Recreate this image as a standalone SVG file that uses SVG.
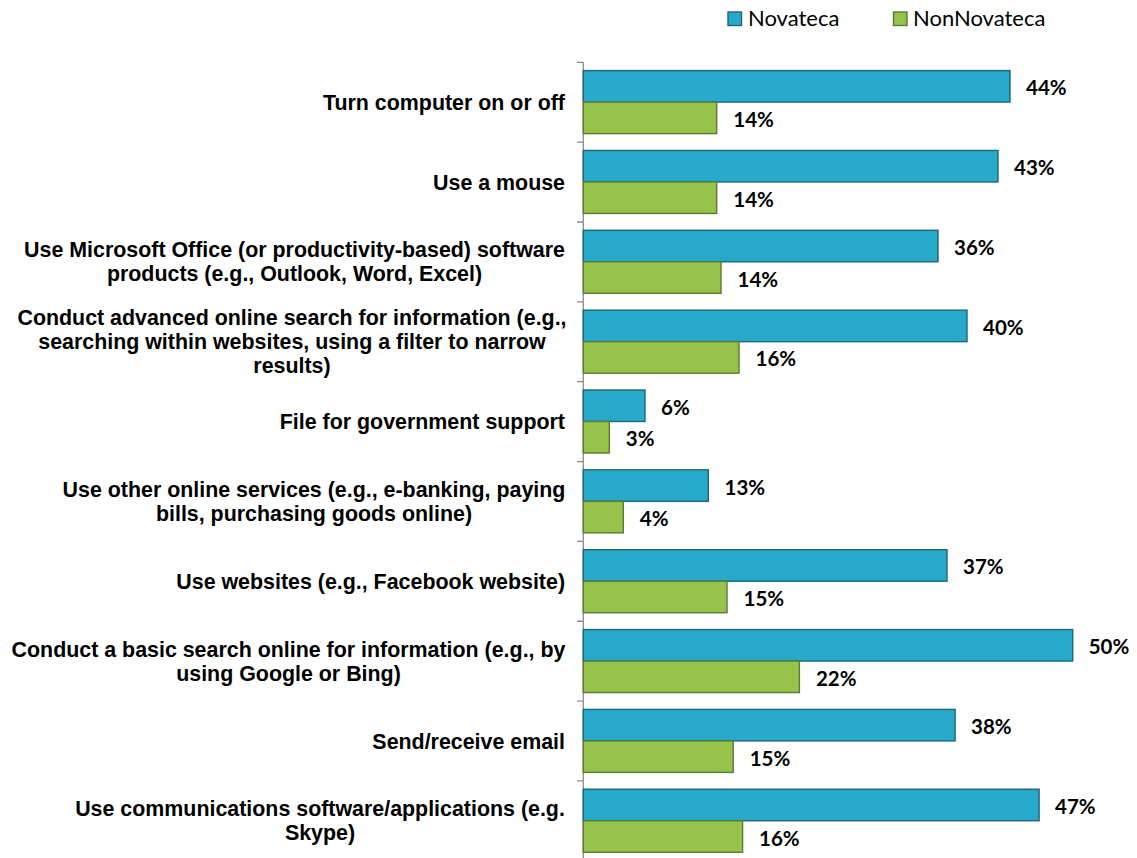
<svg xmlns="http://www.w3.org/2000/svg" width="1137" height="858" viewBox="0 0 1137 858">
<style>
.bg{fill:#ffffff}
.nov{fill:#27aac9;stroke:#1e6678;stroke-width:1.4}
.non{fill:#96c34a;stroke:#5d7a32;stroke-width:1.4}
.val{font-family:Lato,"Open Sans",sans-serif;font-weight:700;font-size:20.5px;fill:#000}
.cat{font-family:"Liberation Sans",Arial,sans-serif;font-weight:700;font-size:21.4px;fill:#000}
.catr{text-anchor:end}
.catm{text-anchor:middle}
.leg{font-family:Lato,"Open Sans",sans-serif;font-size:22px;fill:#000}
.axis{stroke:#8c8c8c;stroke-width:1.3;fill:none}
</style>
<rect class="bg" x="0" y="0" width="1137" height="858"/>
<g id="legend">
<rect class="nov" x="728" y="12" width="13.5" height="13.5"/>
<text class="leg" x="748" y="25.5">Novateca</text>
<rect class="non" x="893.5" y="12" width="13.5" height="13.5"/>
<text class="leg" x="913" y="25.5">NonNovateca</text>
</g>
<g id="axis">
<path class="axis" d="M583.3 62.3V858M577 62.3H583.3M577 142.15H583.3M577 222H583.3M577 301.85H583.3M577 381.7H583.3M577 461.55H583.3M577 541.4H583.3M577 621.25H583.3M577 701.1H583.3M577 780.95H583.3"/>
</g>
<g id="cat1">
<text class="cat catr" x="565" y="109.7">Turn computer on or off</text>
<rect class="nov" x="583.3" y="70.6" width="426.7" height="31.5"/>
<rect class="non" x="583.3" y="102.1" width="133.4" height="31.5"/>
<text class="val" x="1026" y="95.35">44%</text>
<text class="val" x="733.3" y="126.85">14%</text>
</g>
<g id="cat2">
<text class="cat catr" x="565" y="189.6">Use a mouse</text>
<rect class="nov" x="583.3" y="150.45" width="414.7" height="31.5"/>
<rect class="non" x="583.3" y="181.95" width="133.4" height="31.5"/>
<text class="val" x="1014" y="175.2">43%</text>
<text class="val" x="733.3" y="206.7">14%</text>
</g>
<g id="cat3">
<text class="cat catm" x="294.5" y="257.4">Use Microsoft Office (or productivity-based) software</text>
<text class="cat catm" x="294.5" y="281.4">products (e.g., Outlook, Word, Excel)</text>
<rect class="nov" x="583.3" y="230.3" width="354.7" height="31.5"/>
<rect class="non" x="583.3" y="261.8" width="137.7" height="31.5"/>
<text class="val" x="954" y="255.05">36%</text>
<text class="val" x="737.5" y="286.55">14%</text>
</g>
<g id="cat4">
<text class="cat catm" x="292" y="325.3">Conduct advanced online search for information (e.g.,</text>
<text class="cat catm" x="292" y="349.3">searching within websites, using a filter to narrow</text>
<text class="cat catm" x="292" y="373.3">results)</text>
<rect class="nov" x="583.3" y="310.15" width="383.7" height="31.5"/>
<rect class="non" x="583.3" y="341.65" width="155.7" height="31.5"/>
<text class="val" x="983" y="334.9">40%</text>
<text class="val" x="755.5" y="366.4">16%</text>
</g>
<g id="cat5">
<text class="cat catr" x="565" y="429.1">File for government support</text>
<rect class="nov" x="583.3" y="390" width="61.7" height="31.5"/>
<rect class="non" x="583.3" y="421.5" width="26" height="31.5"/>
<text class="val" x="661" y="414.75">6%</text>
<text class="val" x="625.8" y="446.25">3%</text>
</g>
<g id="cat6">
<text class="cat catm" x="314" y="497">Use other online services (e.g., e-banking, paying</text>
<text class="cat catm" x="314" y="521">bills, purchasing goods online)</text>
<rect class="nov" x="583.3" y="469.85" width="125" height="31.5"/>
<rect class="non" x="583.3" y="501.35" width="40" height="31.5"/>
<text class="val" x="724.5" y="494.6">13%</text>
<text class="val" x="639.8" y="526.1">4%</text>
</g>
<g id="cat7">
<text class="cat catr" x="565" y="588.8">Use websites (e.g., Facebook website)</text>
<rect class="nov" x="583.3" y="549.7" width="363.7" height="31.5"/>
<rect class="non" x="583.3" y="581.2" width="143.7" height="31.5"/>
<text class="val" x="963" y="574.45">37%</text>
<text class="val" x="743.5" y="605.95">15%</text>
</g>
<g id="cat8">
<text class="cat catm" x="288.5" y="656.7">Conduct a basic search online for information (e.g., by</text>
<text class="cat catm" x="288.5" y="680.7">using Google or Bing)</text>
<rect class="nov" x="583.3" y="629.55" width="489.4" height="31.5"/>
<rect class="non" x="583.3" y="661.05" width="216.1" height="31.5"/>
<text class="val" x="1088.7" y="654.3">50%</text>
<text class="val" x="815.9" y="685.8">22%</text>
</g>
<g id="cat9">
<text class="cat catr" x="565" y="748.5">Send/receive email</text>
<rect class="nov" x="583.3" y="709.4" width="371.8" height="31.5"/>
<rect class="non" x="583.3" y="740.9" width="149.9" height="31.5"/>
<text class="val" x="971.1" y="734.15">38%</text>
<text class="val" x="749.7" y="765.65">15%</text>
</g>
<g id="cat10">
<text class="cat catm" x="320" y="816.4">Use communications software/applications (e.g.</text>
<text class="cat catm" x="320" y="840.4">Skype)</text>
<rect class="nov" x="583.3" y="789.25" width="455.8" height="31.5"/>
<rect class="non" x="583.3" y="820.75" width="159.3" height="31.5"/>
<text class="val" x="1055.1" y="814">47%</text>
<text class="val" x="759.1" y="845.5">16%</text>
</g>
</svg>
